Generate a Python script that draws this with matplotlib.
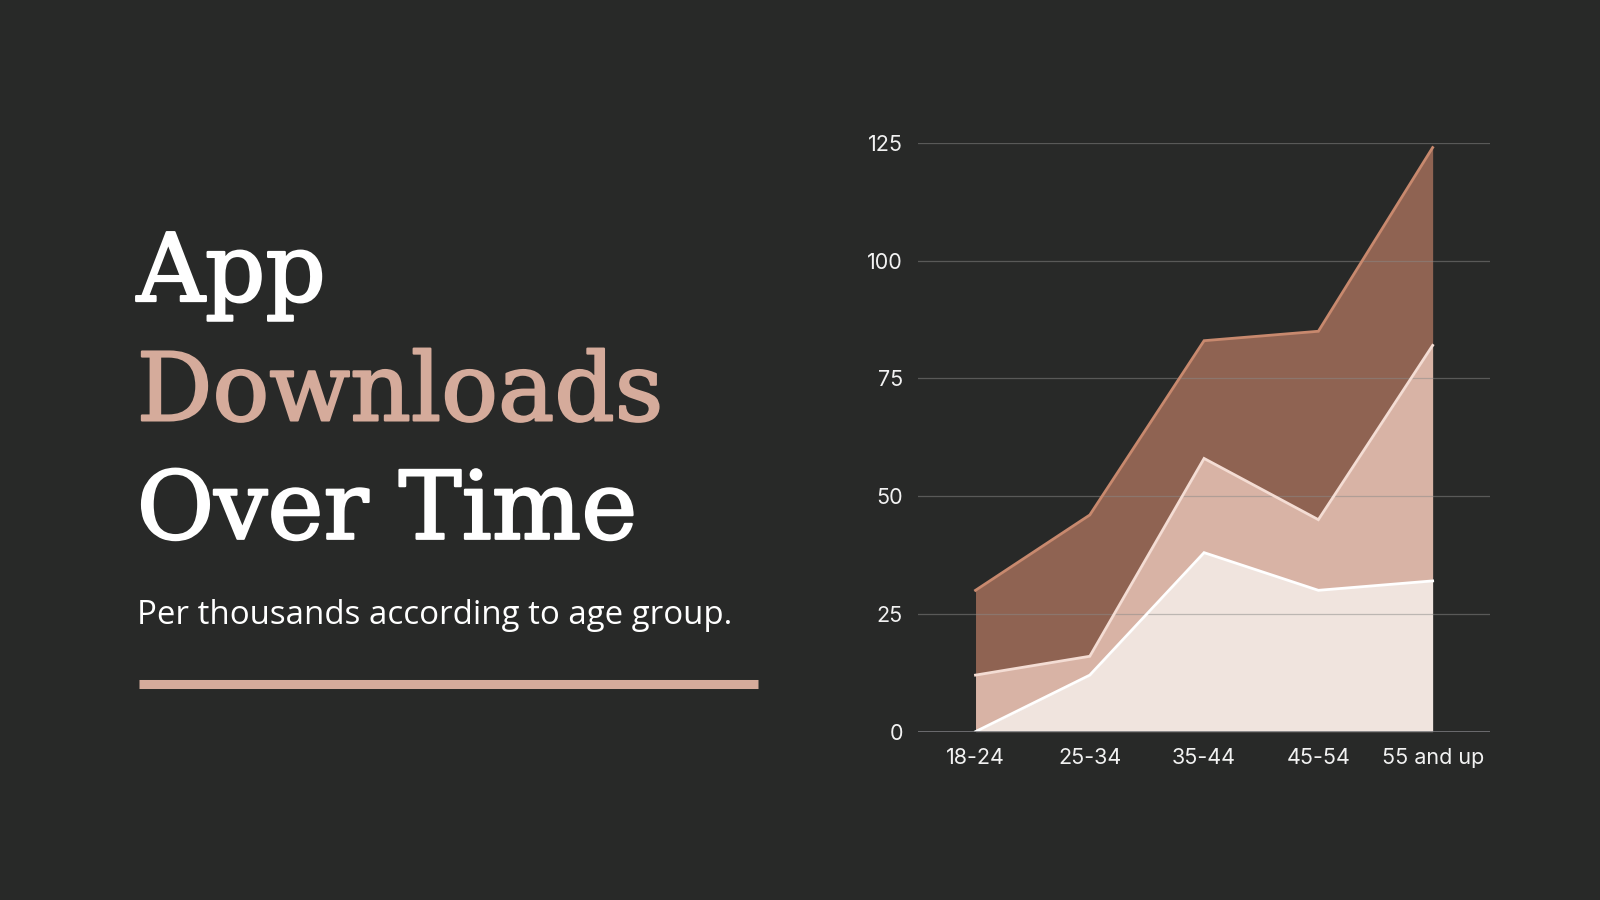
import matplotlib
matplotlib.use("Agg")
import matplotlib.pyplot as plt
import matplotlib.patheffects as pe
import numpy as np

categories = ["18-24", "25-34", "35-44", "45-54", "55 and up"]
series_bottom = [0, 12, 38, 30, 32]
series_middle = [12, 4, 20, 15, 50]
series_top = [18, 30, 25, 40, 42]
y_ticks = [0, 25, 50, 75, 100, 125]

BG = "#282928"
W, H = 1568.0, 882.0

def fx(x):
    return x / W

def fy(y):
    return 1 - y / H

fig = plt.figure(figsize=(16, 9), dpi=100, facecolor=BG)

ax = fig.add_axes([fx(900), fy(717), fx(1460) - fx(900), fy(140) - fy(717)])
ax.set_facecolor(BG)

x = np.arange(len(categories))
b = np.array(series_bottom, dtype=float)
m = b + np.array(series_middle, dtype=float)
t = m + np.array(series_top, dtype=float)

ax.fill_between(x, m, t, color="#8f6352", lw=0, zorder=2)
ax.fill_between(x, b, m, color="#d8b3a5", lw=0, zorder=2)
ax.fill_between(x, 0, b, color="#f0e4de", lw=0, zorder=2)
ax.plot(x, t, color="#c8896e", lw=2, zorder=4, solid_joinstyle="miter")
ax.plot(x, m, color="#f4ddd4", lw=2, zorder=4, solid_joinstyle="miter")
ax.plot(x, b, color="#ffffff", lw=2, zorder=4, solid_joinstyle="miter")

ax.set_xlim(-0.5, len(categories) - 0.5)
ax.set_ylim(0, 125)
ax.set_yticks(y_ticks)
ax.set_xticks(x)
ax.set_xticklabels(categories)
for yv in y_ticks[1:]:
    ax.axhline(yv, color="#8a8a88", lw=0.9, alpha=0.5, zorder=3)
ax.axhline(0, color="#77777a", lw=1.2, zorder=5)

for s in ax.spines.values():
    s.set_visible(False)
ax.tick_params(axis="both", length=0, colors="#f2f2f2", labelsize=15.5)
ax.tick_params(axis="y", pad=11)
ax.tick_params(axis="x", pad=12)
for lab in ax.get_xticklabels() + ax.get_yticklabels():
    lab.set_fontfamily("Inter")

title_kw = dict(fontfamily="DejaVu Serif", fontsize=68, ha="left", va="baseline")
for txt, col, yy in [("App", "#ffffff", 295),
                     ("Downloads", "#d5ab9b", 412),
                     ("Over Time", "#ffffff", 528)]:
    fig.text(fx(134), fy(yy), txt, color=col,
             path_effects=[pe.withStroke(linewidth=1.6, foreground=col)],
             **title_kw)

fig.text(fx(134), fy(612), "Per thousands according to age group.",
         color="#ffffff", fontfamily="Open Sans", fontsize=23.8,
         ha="left", va="baseline")

fig.add_artist(plt.Line2D([fx(136), fx(743)], [fy(670), fy(670)],
                          color="#d5ab9b", lw=6.5, solid_capstyle="butt",
                          transform=fig.transFigure))

fig.savefig("out.png", dpi=100, facecolor=BG)
